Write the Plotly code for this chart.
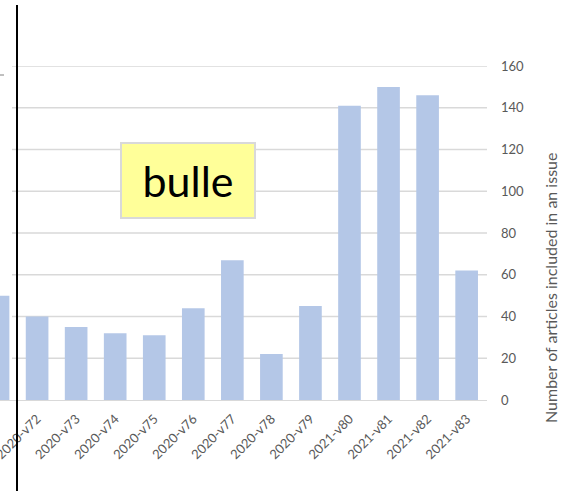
import plotly.graph_objects as go

categories = ["2020-v71", "2020-v72", "2020-v73", "2020-v74", "2020-v75", "2020-v76",
              "2020-v77", "2020-v78", "2020-v79", "2021-v80", "2021-v81", "2021-v82", "2021-v83"]
articles = [50, 40, 35, 32, 31, 44, 67, 22, 45, 141, 150, 146, 62]
y_ticks = [0, 20, 40, 60, 80, 100, 120, 140, 160]
note_text = "bulle"
y_title = "Number of articles included in an issue"

W, H = 567, 491
L, R, T, B = 0, 80, 66, 91
plot_w = W - L - R
plot_h = H - T - B

fig = go.Figure()
fig.add_trace(go.Bar(
    x=list(range(len(categories))), y=articles,
    marker=dict(color="#B4C7E7", line=dict(width=0)),
    width=0.58, showlegend=False, hoverinfo="skip",
))

shapes = []
grid_x0 = 12 / plot_w
for v in y_ticks[1:]:
    shapes.append(dict(type="line", xref="paper", yref="y", x0=grid_x0, x1=1, y0=v, y1=v,
                       line=dict(color="#D9D9D9", width=1.3), layer="below"))
# vertical black line (screenshot divider)
lx = 17 / plot_w
shapes.append(dict(type="line", xref="paper", yref="paper", x0=lx, x1=lx,
                   y0=(B - H) / plot_h, y1=(plot_h + T - 5) / plot_h,
                   line=dict(color="black", width=2), layer="above"))
# small tick fragment at top left
frag_y = (plot_h - (75 - T)) / plot_h
shapes.append(dict(type="line", xref="paper", yref="paper", x0=0, x1=4 / plot_w,
                   y0=frag_y, y1=frag_y,
                   line=dict(color="#808080", width=1), layer="above"))

fig.update_layout(
    width=W, height=H,
    margin=dict(l=L, r=R, t=T, b=B, pad=0, autoexpand=False),
    paper_bgcolor="white", plot_bgcolor="white",
    font=dict(family="Lato, Open Sans, sans-serif", color="#595959", size=13),
    shapes=shapes,
    xaxis=dict(
        range=[0.05, 0.05 + plot_w / 39.05],
        tickmode="array", tickvals=list(range(len(categories))), ticktext=categories,
        tickangle=-45, showgrid=False, zeroline=False,
        showline=True, linecolor="#D9D9D9", linewidth=1.3,
        ticks="", tickfont=dict(size=13, color="#595959"),
        ticklabeloverflow="allow", automargin=False, ticklabelstandoff=5,
    ),
    yaxis=dict(
        side="right", range=[0, 160], tickmode="array", tickvals=y_ticks,
        showgrid=False, zeroline=False, showline=False, ticks="",
        ticklabelstandoff=13, automargin=False,
        tickfont=dict(size=13, color="#595959"),
    ),
    annotations=[
        dict(
            text=note_text, xref="paper", yref="paper",
            x=188 / plot_w, y=(400 - 180) / plot_h, xanchor="center", yanchor="middle",
            showarrow=False, font=dict(size=43, color="black", family="Lato, Open Sans, sans-serif"),
            bgcolor="#FFFF99", bordercolor="#D9D9D9", borderwidth=2, borderpad=0,
            width=132, height=73,
        ),
        dict(
            text=y_title, xref="paper", yref="paper", textangle=-90,
            x=(550 - L) / plot_w, y=(400 - 288) / plot_h, xanchor="center", yanchor="middle",
            showarrow=False, font=dict(size=16, color="#595959"),
        ),
    ],
)

fig.write_html("out.html", config={"displayModeBar": False},
               post_script="document.body.style.margin='0';document.body.style.overflow='hidden';")
